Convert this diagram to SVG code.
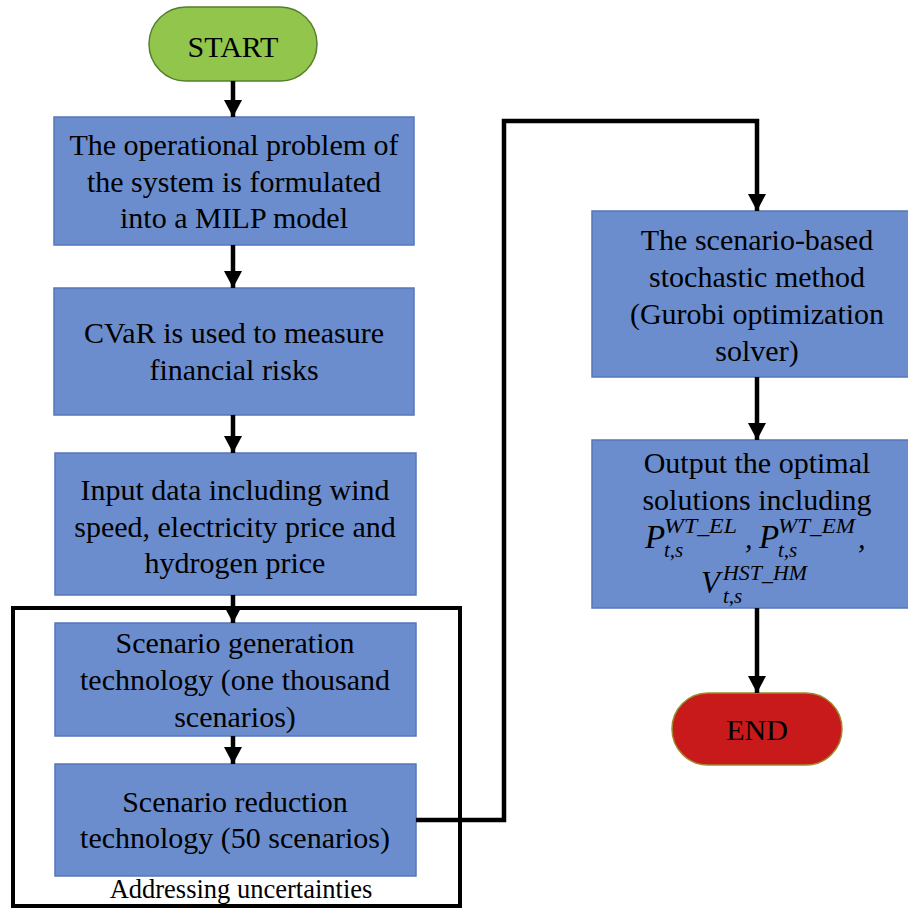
<svg xmlns="http://www.w3.org/2000/svg" width="908" height="909" viewBox="0 0 908 909">
<defs>
<style>
.box{fill:#6b8dcd;stroke:#5577bb;stroke-width:1.5}
.t{font-family:"Liberation Serif","Times New Roman",serif;font-size:30px;fill:#000;text-anchor:middle}
.m{font-family:"Liberation Serif","Times New Roman",serif;font-style:italic;fill:#000}
.c{fill:none;stroke:#000;stroke-width:4.5}
</style>
<marker id="ah" markerUnits="userSpaceOnUse" viewBox="0 0 18 18" markerWidth="18" markerHeight="18" refX="17" refY="9" orient="auto">
<path d="M0,0 L17,9 L0,18 z" fill="#000"/>
</marker>
</defs>
<rect width="908" height="909" fill="#fff"/>

<g id="container">
<rect x="13" y="608" width="447" height="298" fill="none" stroke="#000" stroke-width="4"/>
<text class="t" x="241" y="898" style="font-size:26.5px">Addressing uncertainties</text>
</g>

<g id="start">
<rect x="149" y="7" width="168" height="74" rx="37" fill="#92c54c" stroke="#557f2c" stroke-width="1.5"/>
<text class="t" x="233" y="57">START</text>
</g>

<g id="box1">
<rect class="box" x="54" y="117" width="360" height="128"/>
<text class="t" x="234" y="155">The operational problem of</text>
<text class="t" x="234" y="192">the system is formulated</text>
<text class="t" x="234" y="228">into a MILP model</text>
</g>

<g id="box2">
<rect class="box" x="54" y="288" width="360" height="127"/>
<text class="t" x="234" y="343">CVaR is used to measure</text>
<text class="t" x="234" y="380">financial risks</text>
</g>

<g id="box3">
<rect class="box" x="55" y="453" width="361" height="142"/>
<text class="t" x="235" y="500">Input data including wind</text>
<text class="t" x="235" y="537">speed, electricity price and</text>
<text class="t" x="235" y="573">hydrogen price</text>
</g>

<g id="box4">
<rect class="box" x="55" y="623" width="361" height="113"/>
<text class="t" x="235" y="653">Scenario generation</text>
<text class="t" x="235" y="690">technology (one thousand</text>
<text class="t" x="235" y="727">scenarios)</text>
</g>

<g id="box5">
<rect class="box" x="55" y="764" width="361" height="112"/>
<text class="t" x="235" y="812">Scenario reduction</text>
<text class="t" x="235" y="848">technology (50 scenarios)</text>
</g>

<g id="box6">
<rect class="box" x="592" y="211" width="330" height="166"/>
<text class="t" x="757" y="250">The scenario-based</text>
<text class="t" x="757" y="287">stochastic method</text>
<text class="t" x="757" y="324">(Gurobi optimization</text>
<text class="t" x="757" y="361">solver)</text>
</g>

<g id="box7">
<rect class="box" x="592" y="440" width="330" height="168"/>
<text class="t" x="757" y="473">Output the optimal</text>
<text class="t" x="757" y="510">solutions including</text>
<text class="m"><tspan x="645" y="548" font-size="33">P</tspan><tspan x="664" y="533" font-size="20" textLength="73" lengthAdjust="spacingAndGlyphs">WT_EL</tspan><tspan x="664" y="557" font-size="21">t,s</tspan><tspan x="745" y="548" font-size="30">,</tspan><tspan x="759" y="548" font-size="33">P</tspan><tspan x="778" y="533" font-size="20" textLength="77" lengthAdjust="spacingAndGlyphs">WT_EM</tspan><tspan x="778" y="557" font-size="21">t,s</tspan><tspan x="858" y="548" font-size="30">,</tspan></text>
<text class="m"><tspan x="701" y="593" font-size="31">V</tspan><tspan x="723" y="580" font-size="20" textLength="84" lengthAdjust="spacingAndGlyphs">HST_HM</tspan><tspan x="723" y="603" font-size="21">t,s</tspan></text>
</g>

<g id="end">
<rect x="672" y="693" width="170" height="72" rx="36" fill="#c8191b" stroke="#9c8a2c" stroke-width="1.5"/>
<text class="t" x="757" y="740">END</text>
</g>

<g id="connectors">
<path class="c" d="M233,81 L233,117" marker-end="url(#ah)"/>
<path class="c" d="M233,245 L233,288" marker-end="url(#ah)"/>
<path class="c" d="M233,415 L233,453" marker-end="url(#ah)"/>
<path class="c" d="M233,595 L233,623" marker-end="url(#ah)"/>
<path class="c" d="M233,736 L233,764" marker-end="url(#ah)"/>
<path class="c" d="M416,820 L504,820 L504,121 L757,121 L757,211" marker-end="url(#ah)"/>
<path class="c" d="M757,377 L757,440" marker-end="url(#ah)"/>
<path class="c" d="M757,608 L757,693" marker-end="url(#ah)"/>
</g>
</svg>
